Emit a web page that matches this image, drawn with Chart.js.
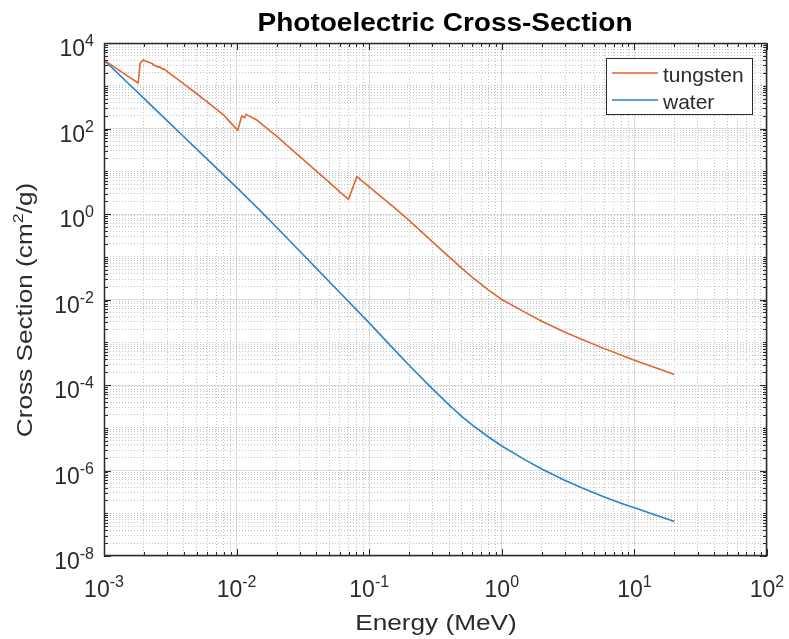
<!DOCTYPE html>
<html>
<head>
<meta charset="utf-8">
<script src="https://cdn.jsdelivr.net/npm/chart.js@4/dist/chart.umd.min.js"></script>
<style>
  html, body { margin: 0; padding: 0; background: #ffffff; }
  canvas { display: block; }
</style>
</head>
<body>
<canvas id="chart" width="789" height="639"></canvas>
<script>
// Photoelectric cross-sections (cm^2/g) versus photon energy (MeV)
const tungstenEnergy = [0.001, 0.0015, 0.00181, 0.00187, 0.00198, 0.0022, 0.00229, 0.00238, 0.00257, 0.00262,
  0.0028, 0.00285, 0.003, 0.004, 0.005, 0.006, 0.008, 0.01, 0.0102, 0.01094, 0.0115, 0.0118, 0.0121,
  0.0142, 0.015, 0.02, 0.03, 0.04, 0.05, 0.06, 0.0698, 0.0807, 0.1, 0.15, 0.2, 0.3, 0.4, 0.5, 0.6, 0.8,
  1, 1.5, 2, 3, 4, 5, 6, 8, 10, 15, 20];
const tungstenCrossSection = [3980, 1700, 1160, 3350, 4000, 3500, 3350, 3060, 2700, 2780,
  2400, 2480, 2130, 1100, 650, 420, 205, 97, 92, 196, 180, 215, 205,
  158, 138, 66, 22, 10.1, 5.5, 3.3, 2.21, 7.46, 4.3, 1.53, 0.71, 0.223, 0.099, 0.0535, 0.0328, 0.0164,
  0.0100, 0.0050, 0.0031, 0.00172, 0.00117, 0.00088, 0.0007, 0.000495, 0.000378, 0.000243, 0.000176];

const waterEnergy = [0.001, 0.0015, 0.002, 0.003, 0.004, 0.005, 0.006, 0.008, 0.01, 0.015, 0.02, 0.03,
  0.04, 0.05, 0.06, 0.08, 0.1, 0.15, 0.2, 0.3, 0.4, 0.5, 0.6, 0.8, 1, 1.5, 2, 3, 4, 5, 6, 8, 10, 15, 20];
const waterCrossSection = [3980, 1190, 505, 151, 64, 33, 19.2, 8.1, 4.2, 1.22, 0.49, 0.134,
  0.0535, 0.026, 0.0146, 0.0058, 0.00284, 7.4e-4, 2.9e-4, 8.1e-5, 3.42e-5, 1.83e-5, 1.15e-5, 6.0e-6,
  3.75e-6, 1.77e-6, 1.08e-6, 5.86e-7, 3.97e-7, 2.98e-7, 2.38e-7, 1.7e-7, 1.34e-7, 8.7e-8, 6.4e-8];

const seriesNames = ['tungsten', 'water'];
const seriesColors = ['#E0672F', '#2A84C8'];

// Labelled decades (tick labels are 10^exponent)
const xTickExponents = [-3, -2, -1, 0, 1, 2];
const yTickExponents = [-8, -6, -4, -2, 0, 2, 4];

const chartTitle = 'Photoelectric Cross-Section';
const xAxisTitle = 'Energy (MeV)';
const yAxisTitleParts = [['Cross Section (cm', false], ['2', true], ['/g)', false]];

const FONT = '"Liberation Sans", Arial, Helvetica, sans-serif';
const INK = '#2b2b2b';

function logTicks(minExp, maxExp) {
  const out = [];
  for (let e = minExp; e < maxExp; e++) {
    for (let m = 1; m < 10; m++) out.push(m * Math.pow(10, e));
  }
  out.push(Math.pow(10, maxExp));
  return out;
}
function isMajor(v, exps) {
  return exps.some(e => Math.abs(v / Math.pow(10, e) - 1) < 1e-9);
}

const xExpMin = xTickExponents[0], xExpMax = xTickExponents[xTickExponents.length - 1];
const yExpMin = yTickExponents[0], yExpMax = yTickExponents[yTickExponents.length - 1];
const xGridValues = logTicks(xExpMin, xExpMax);
const yGridValues = logTicks(yExpMin, yExpMax);

function gridOpts(exps) {
  return {
    drawTicks: false,
    lineWidth: 1,
    color: ctx => (ctx.tick && isMajor(ctx.tick.value, exps)) ? '#dcdcdc' : '#c4c4c4'
  };
}
function borderOpts(exps) {
  return {
    display: false,
    dash: ctx => (ctx.tick && !isMajor(ctx.tick.value, exps)) ? [1, 2] : []
  };
}

function drawPower(ctx, exp, x, baseline, align) {
  const base = '10', sup = String(exp);
  const baseFont = '23px ' + FONT, supFont = '16px ' + FONT;
  ctx.font = baseFont;
  const wb = ctx.measureText(base).width;
  ctx.font = supFont;
  const ws = ctx.measureText(sup).width;
  const total = wb + ws;
  const left = align === 'center' ? x - total / 2 : x - total;
  ctx.textAlign = 'left';
  ctx.textBaseline = 'alphabetic';
  ctx.font = baseFont;
  ctx.fillText(base, left, baseline);
  ctx.font = supFont;
  ctx.fillText(sup, left + wb, baseline - 10);
}

function drawStretched(ctx, text, x, y, font, sx) {
  ctx.save();
  ctx.font = font;
  ctx.translate(x, y);
  ctx.scale(sx, 1);
  ctx.textAlign = 'center';
  ctx.textBaseline = 'alphabetic';
  ctx.fillText(text, 0, 0);
  ctx.restore();
}

const axesDecor = {
  id: 'axesDecor',
  afterDraw(chart) {
    const { ctx, chartArea: a, scales: { x, y } } = chart;
    ctx.save();

    // inward tick marks on all four sides
    ctx.strokeStyle = INK;
    ctx.lineWidth = 1;
    ctx.beginPath();
    xGridValues.forEach(v => {
      const px = Math.round(x.getPixelForValue(v)) + 0.5;
      const len = isMajor(v, xTickExponents) ? 7 : 4;
      ctx.moveTo(px, a.bottom); ctx.lineTo(px, a.bottom - len);
      ctx.moveTo(px, a.top); ctx.lineTo(px, a.top + len);
    });
    yGridValues.forEach(v => {
      const py = Math.round(y.getPixelForValue(v)) + 0.5;
      const len = isMajor(v, yTickExponents) ? 7 : 4;
      ctx.moveTo(a.left, py); ctx.lineTo(a.left + len, py);
      ctx.moveTo(a.right, py); ctx.lineTo(a.right - len, py);
    });
    ctx.stroke();

    // axes box
    ctx.lineWidth = 1.5;
    ctx.strokeRect(a.left + 0.5, a.top + 0.5, a.right - a.left - 1, a.bottom - a.top - 1);

    // tick labels
    ctx.fillStyle = INK;
    xTickExponents.forEach(e => {
      drawPower(ctx, e, x.getPixelForValue(Math.pow(10, e)), a.bottom + 41, 'center');
    });
    yTickExponents.forEach(e => {
      drawPower(ctx, e, a.left - 10, y.getPixelForValue(Math.pow(10, e)) + 13, 'right');
    });

    // axis titles
    drawStretched(ctx, xAxisTitle, 436, 630, '22px ' + FONT, 1.19);

    ctx.save();
    ctx.translate(32, 310);
    ctx.rotate(-Math.PI / 2);
    ctx.scale(1.19, 1);
    const mainFont = '22px ' + FONT, supFont = '15px ' + FONT;
    let total = 0;
    yAxisTitleParts.forEach(([t, sup]) => { ctx.font = sup ? supFont : mainFont; total += ctx.measureText(t).width; });
    let cx = -total / 2;
    ctx.textAlign = 'left';
    yAxisTitleParts.forEach(([t, sup]) => {
      ctx.font = sup ? supFont : mainFont;
      ctx.fillText(t, cx, sup ? -9 : 0);
      cx += ctx.measureText(t).width;
    });
    ctx.restore();

    // title
    ctx.fillStyle = '#000000';
    drawStretched(ctx, chartTitle, 445, 31, 'bold 25px ' + FONT, 1.12);

    // legend
    const lx = 606, ly = 58, lw = 146, lh = 56;
    ctx.fillStyle = '#ffffff';
    ctx.fillRect(lx, ly, lw, lh);
    ctx.strokeStyle = INK;
    ctx.lineWidth = 1;
    ctx.strokeRect(lx + 0.5, ly + 0.5, lw, lh);
    const rows = [73, 100];
    chart.data.datasets.forEach((ds, i) => {
      ctx.strokeStyle = ds.borderColor;
      ctx.lineWidth = 1.6;
      ctx.beginPath();
      ctx.moveTo(612, rows[i]); ctx.lineTo(658, rows[i]);
      ctx.stroke();
      ctx.fillStyle = INK;
      ctx.font = '21px ' + FONT;
      ctx.textAlign = 'left';
      ctx.textBaseline = 'alphabetic';
      ctx.fillText(ds.label, 663, rows[i] + 9);
    });

    ctx.restore();
  }
};

const toPoints = (xs, ys) => xs.map((v, i) => ({ x: v, y: ys[i] }));

new Chart(document.getElementById('chart'), {
  type: 'line',
  data: {
    datasets: [
      { label: seriesNames[0], data: toPoints(tungstenEnergy, tungstenCrossSection), borderColor: seriesColors[0] },
      { label: seriesNames[1], data: toPoints(waterEnergy, waterCrossSection), borderColor: seriesColors[1] }
    ]
  },
  options: {
    responsive: false,
    animation: false,
    devicePixelRatio: 1,
    layout: { padding: { left: 104, top: 43, right: 22, bottom: 83 } },
    elements: {
      line: { borderWidth: 1.6, tension: 0, fill: false },
      point: { radius: 0, hoverRadius: 0 }
    },
    plugins: { legend: { display: false }, tooltip: { enabled: false }, title: { display: false } },
    scales: {
      x: {
        type: 'logarithmic',
        min: Math.pow(10, xExpMin), max: Math.pow(10, xExpMax),
        afterBuildTicks: s => { s.ticks = xGridValues.map(v => ({ value: v })); },
        ticks: { display: false },
        grid: gridOpts(xTickExponents),
        border: borderOpts(xTickExponents),
        title: { display: false }
      },
      y: {
        type: 'logarithmic',
        min: Math.pow(10, yExpMin), max: Math.pow(10, yExpMax),
        afterBuildTicks: s => { s.ticks = yGridValues.map(v => ({ value: v })); },
        ticks: { display: false },
        grid: gridOpts(yTickExponents),
        border: borderOpts(yTickExponents),
        title: { display: false }
      }
    }
  },
  plugins: [axesDecor]
});
</script>
</body>
</html>
